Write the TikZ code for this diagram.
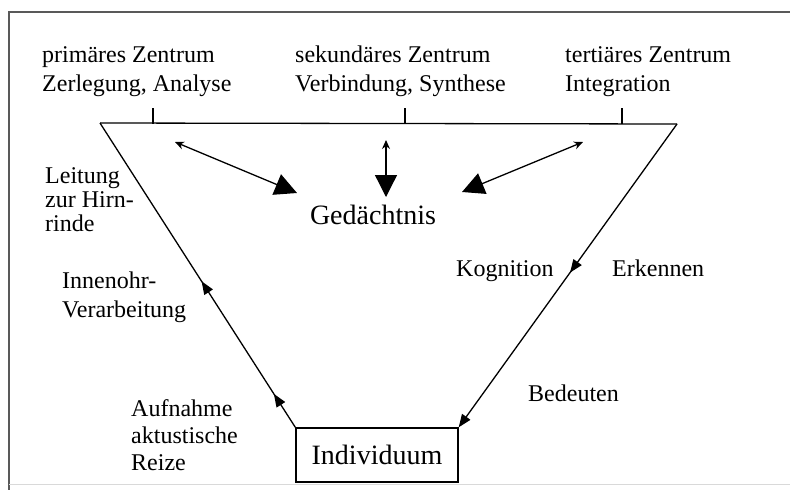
\documentclass[tikz,border=0pt]{standalone}
\usepackage{fontspec}
\setmainfont{Liberation Serif}
\usetikzlibrary{arrows.meta,decorations.markings}
\tikzset{
  lbl/.style={font=\fontsize{24}{29}\selectfont,align=left,inner sep=0pt,anchor=north west},
  big/.style={font=\fontsize{28}{32}\selectfont,inner sep=0pt},
  twoway/.style={line width=1.3pt,{Stealth[length=9pt,width=8pt]}-{Triangle[length=22pt,width=22pt]}},
  side/.style={line width=1.3pt}
}
\begin{document}
\begin{tikzpicture}[x=1pt,y=-1pt]
\useasboundingbox (0,0) rectangle (790,490);
% frame
\draw[line width=1.8pt,black!65] (790,12) -- (9,12) -- (9,490);
\draw[line width=1pt,black!15] (9,484) -- (790,484);
% top line with ticks
\coordinate (tl) at (100,123);
\coordinate (tr) at (677,124);
\draw[side] (tl) -- (tr);
\draw[side] (153,108) -- (153,123.5);
\draw[side] (405,108) -- (405,123.5);
\draw[side] (622,108) -- (622,124);
\node[lbl] (zen1) at (42,46) {primäres Zentrum\\Zerlegung, Analyse};
\node[lbl] (zen2) at (295,46) {sekundäres Zentrum\\Verbindung, Synthese};
\node[lbl] (zen3) at (565,46) {tertiäres Zentrum\\Integration};
% memory
\node[big] (mem) at (373,215) {Gedächtnis};
\coordinate (a1) at (175,142);
\coordinate (b1) at (297,193);
\coordinate (a2) at (386,140);
\coordinate (b2) at (386,197);
\coordinate (a3) at (583,142);
\coordinate (b3) at (462,192);
\draw[twoway] (a1) -- (b1);
\draw[twoway] (a2) -- (b2);
\draw[twoway] (a3) -- (b3);
% individual
\node[big,draw,line width=1.3pt,minimum width=162pt,minimum height=54pt] (ind) at (377,455) {Individuum};
\draw[side,decoration={markings,
  mark=at position 0.11 with {\arrow{Triangle[length=13pt,width=10pt]}},
  mark=at position 0.48 with {\arrow{Triangle[length=13pt,width=10pt]}}},
  postaction={decorate}] (ind.north west) -- (tl);
\draw[side,-{Triangle[length=13pt,width=10pt]},decoration={markings,
  mark=at position 0.49 with {\arrow{Triangle[length=13pt,width=10pt]}}},
  postaction={decorate}] (tr) -- (ind.north east);
% labels
\node[lbl,font=\fontsize{24}{24}\selectfont] (hirn) at (45,167) {Leitung\\zur Hirn-\\rinde};
\node[lbl] (ohr) at (62,272) {Innenohr-\\Verarbeitung};
\node[lbl,font=\fontsize{24}{27}\selectfont] (auf) at (131,399) {Aufnahme\\aktustische\\Reize};
\node[lbl] (kog) at (456,260) {Kognition};
\node[lbl] (erk) at (612,260) {Erkennen};
\node[lbl] (bed) at (528,385) {Bedeuten};
\end{tikzpicture}
\end{document}
